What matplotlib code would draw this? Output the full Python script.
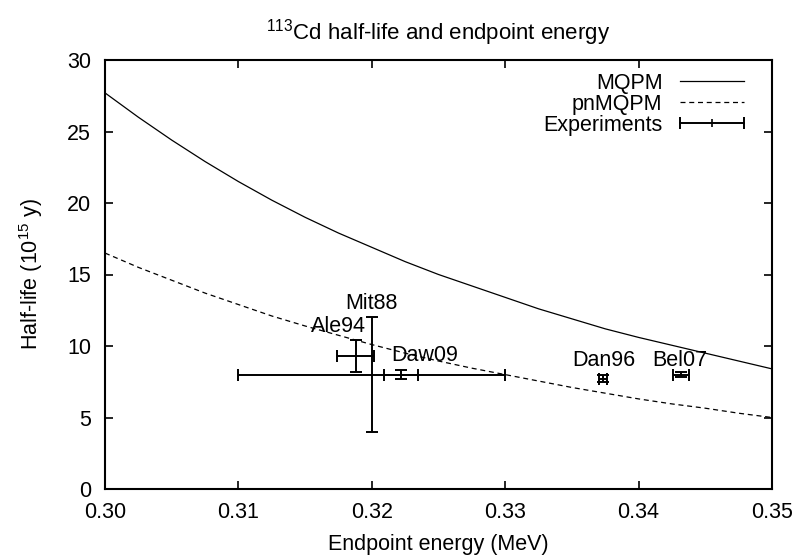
import matplotlib
matplotlib.use('Agg')
import matplotlib.pyplot as plt
from matplotlib.lines import Line2D
from matplotlib.legend_handler import HandlerLine2D

plt.rcParams['font.family'] = ['Liberation Sans', 'DejaVu Sans']
plt.rcParams['font.size'] = 15.5
plt.rcParams['mathtext.fontset'] = 'custom'
plt.rcParams['mathtext.rm'] = 'Liberation Sans'
plt.rcParams['mathtext.it'] = 'Liberation Sans'
plt.rcParams['mathtext.default'] = 'rm'

# theory curves
energy = [0.3000, 0.3025, 0.3050, 0.3075, 0.3100, 0.3125, 0.3150, 0.3175,
          0.3200, 0.3225, 0.3250, 0.3275, 0.3300, 0.3325, 0.3350, 0.3375,
          0.3400, 0.3425, 0.3450, 0.3475, 0.3500]
mqpm = [27.7, 26.0, 24.4, 22.9, 21.5, 20.2, 19.0, 17.9,
        16.9, 15.9, 15.0, 14.2, 13.4, 12.6, 11.9, 11.2,
        10.6, 10.05, 9.5, 8.95, 8.4]
pnmqpm = [16.5, 15.5, 14.6, 13.7, 12.9, 12.1, 11.4, 10.75,
          10.1, 9.5, 8.95, 8.45, 8.0, 7.55, 7.1, 6.7,
          6.3, 5.95, 5.65, 5.3, 5.0]

# experiments
exp_names = ['Mit88', 'Ale94', 'Daw09', 'Dan96', 'Bel07']
exp_e = [0.3200, 0.3188, 0.3222, 0.3373, 0.3432]
exp_de = [0.0100, 0.0014, 0.00125, 0.0003, 0.0006]
exp_t = [8.0, 9.3, 8.0, 7.7, 8.0]
exp_dt = [4.0, 1.1, 0.32, 0.25, 0.2]
label_e = [0.3200, 0.3175, 0.3240, 0.3374, 0.3431]
label_t = [13.0, 11.35, 9.37, 9.02, 9.02]

fig = plt.figure(figsize=(7.97, 5.58), dpi=100)
ax = fig.add_axes([105 / 797, 69 / 558, 667 / 797, 429 / 558])

l1, = ax.plot(energy, mqpm, color='black', lw=0.9)
l2, = ax.plot(energy, pnmqpm, color='black', lw=0.9, dashes=(4, 3))
ax.errorbar(exp_e, exp_t, xerr=exp_de, yerr=exp_dt, fmt='none', ecolor='black',
            elinewidth=1.4, capsize=4.5, capthick=1.4)

for name, x, y in zip(exp_names, label_e, label_t):
    ax.text(x, y, name, ha='center', va='center')

ax.set_xlim(0.30, 0.35)
ax.set_ylim(0, 30)
ax.set_xticks([0.30, 0.31, 0.32, 0.33, 0.34, 0.35])
ax.set_xticklabels(['0.30', '0.31', '0.32', '0.33', '0.34', '0.35'])
ax.set_yticks([0, 5, 10, 15, 20, 25, 30])
ax.tick_params(direction='in', top=True, right=True, length=6, width=1.2)
ax.tick_params(axis='x', pad=9)
ax.tick_params(axis='y', pad=10)
for s in ax.spines.values():
    s.set_linewidth(1.5)

ax.set_xlabel('Endpoint energy (MeV)', labelpad=8)
ax.set_ylabel('Half-life (10$^{15}$ y)', labelpad=16)
ax.set_title('$^{113}$Cd half-life and endpoint energy', fontsize=16, pad=15)

# gnuplot-like key sample for the error bars
exp_bar = Line2D([], [], color='black', lw=1.4, marker='|', markersize=9,
                 markeredgewidth=1.4)
exp_tick = Line2D([], [], color='black', ls='none', marker='|', markersize=6,
                  markeredgewidth=1.2)
ax.legend([l1, l2, (exp_bar, exp_tick)], ['MQPM', 'pnMQPM', 'Experiments'],
          loc='upper right', bbox_to_anchor=(0.981, 0.99), borderaxespad=0,
          frameon=False, markerfirst=False, numpoints=2,
          handlelength=3.6, labelspacing=0.0, handletextpad=0.5,
          handler_map={exp_tick: HandlerLine2D(numpoints=1, marker_pad=0)})

fig.savefig('out.png', dpi=100)
